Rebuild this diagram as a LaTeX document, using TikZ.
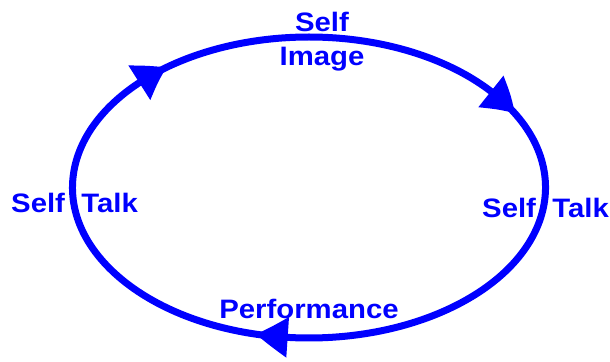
\documentclass[tikz,border=0pt]{standalone}
\usepackage{fontspec}
\setmainfont{Liberation Sans}[FakeStretch=1.1]
\usetikzlibrary{arrows.meta,bending}
\definecolor{loopblue}{RGB}{0,0,255}
\begin{document}
\begin{tikzpicture}[x=0.75pt,y=0.75pt,
  loopseg/.style={draw=loopblue, line width=5.25pt,
    -{Triangle[length=24pt,width=29pt,bend]}},
  cyclelabel/.style={text=loopblue, inner sep=0pt, anchor=base,
    font=\fontsize{20}{24.75}\selectfont\bfseries}]
\useasboundingbox (0,0) rectangle (610,361);
% the cycle: an ellipse split into three arrowed arcs, run clockwise;
% each arc starts a little behind the previous tip so the joins stay closed
\begin{scope}[shift={(309,173.5)}]
  \coordinate (tipA) at (127:236.5 and 150.5);
  \coordinate (tipB) at (29.5:236.5 and 150.5);
  \coordinate (tipC) at (-103:236.5 and 150.5);
  \coordinate (startA) at (-97:236.5 and 150.5);
  \coordinate (startB) at (133:236.5 and 150.5);
  \coordinate (startC) at (36:236.5 and 150.5);
  \draw[loopseg] (startA) arc[start angle=-97, end angle=-233, x radius=236.5, y radius=150.5];
  \draw[loopseg] (startB) arc[start angle=133, end angle=29.5, x radius=236.5, y radius=150.5];
  \draw[loopseg] (startC) arc[start angle=36, end angle=-103, x radius=236.5, y radius=150.5];
\end{scope}
% stage labels
\node[cyclelabel, align=center] (image) at (322,296) {Self\\Image};
\node[cyclelabel] (talkL) at (74.5,149) {Self~~Talk};
\node[cyclelabel] (talkR) at (545.5,144) {Self~~Talk};
\node[cyclelabel] (perf) at (309,43) {Performance};
\end{tikzpicture}
\end{document}
